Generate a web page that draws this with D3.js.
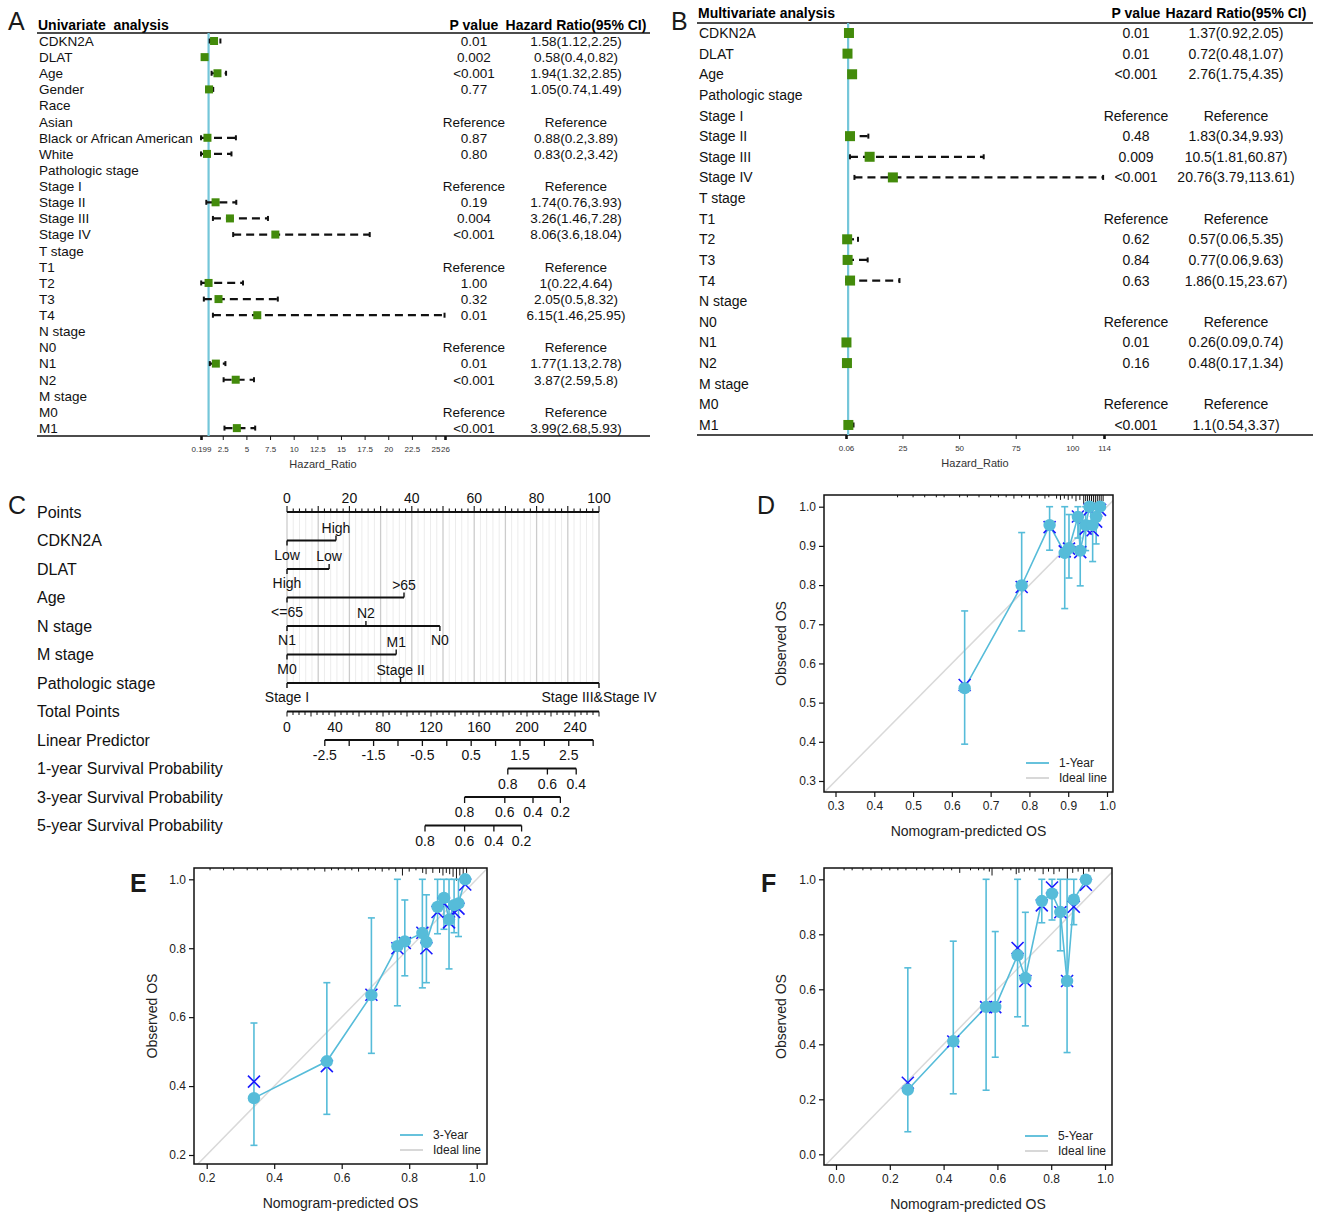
<!DOCTYPE html>
<html>
<head>
<meta charset="utf-8">
<script src="https://cdn.jsdelivr.net/npm/d3@7"></script>
<style>
  body { margin: 0; background: #fff; }
</style>
</head>
<body>
<div id="fig"></div>
<script>
// ---------------- data: univariate Cox (panel A) ----------------
const uniLabels = ["CDKN2A","DLAT","Age","Gender","Race","Asian","Black or African American","White",
  "Pathologic stage","Stage I","Stage II","Stage III","Stage IV","T stage","T1","T2","T3","T4",
  "N stage","N0","N1","N2","M stage","M0","M1"];
const uniHR   = [1.58,0.58,1.94,1.05,null,null,0.88,0.83,null,null,1.74,3.26,8.06,null,null,1,2.05,6.15,null,null,1.77,3.87,null,null,3.99];
const uniLow  = [1.12,0.4,1.32,0.74,null,null,0.2,0.2,null,null,0.76,1.46,3.6,null,null,0.22,0.5,1.46,null,null,1.13,2.59,null,null,2.68];
const uniHigh = [2.25,0.82,2.85,1.49,null,null,3.89,3.42,null,null,3.93,7.28,18.04,null,null,4.64,8.32,25.95,null,null,2.78,5.8,null,null,5.93];
const uniP    = ["0.01","0.002","<0.001","0.77","","Reference","0.87","0.80","","Reference","0.19","0.004","<0.001",
  "","Reference","1.00","0.32","0.01","","Reference","0.01","<0.001","","Reference","<0.001"];
const uniTicks = [0.199,2.5,5,7.5,10,12.5,15,17.5,20,22.5,25,26];

// ---------------- data: multivariate Cox (panel B) ----------------
const multiLabels = ["CDKN2A","DLAT","Age","Pathologic stage","Stage I","Stage II","Stage III","Stage IV",
  "T stage","T1","T2","T3","T4","N stage","N0","N1","N2","M stage","M0","M1"];
const multiHR   = [1.37,0.72,2.76,null,null,1.83,10.5,20.76,null,null,0.57,0.77,1.86,null,null,0.26,0.48,null,null,1.1];
const multiLow  = [0.92,0.48,1.75,null,null,0.34,1.81,3.79,null,null,0.06,0.06,0.15,null,null,0.09,0.17,null,null,0.54];
const multiHigh = [2.05,1.07,4.35,null,null,9.93,60.87,113.61,null,null,5.35,9.63,23.67,null,null,0.74,1.34,null,null,3.37];
const multiP    = ["0.01","0.01","<0.001","","Reference","0.48","0.009","<0.001","","Reference","0.62","0.84","0.63",
  "","Reference","0.01","0.16","","Reference","<0.001"];
const multiTicks = [0.06,25,50,75,100,114];

// ---------------- data: nomogram (panel C) ----------------
const nomoVars   = ["CDKN2A","DLAT","Age","N stage","M stage","Pathologic stage"];
const nomoLevels = [["Low","High"],["High","Low"],["<=65",">65"],["N1","N2","N0"],["M0","M1"],["Stage I","Stage II","Stage III&Stage IV"]];
const nomoPoints = [[0,15.7],[0,13.5],[0,37.5],[0,25.3,49],[0,35],[0,36.4,100]];
const pointsLabels = [0,20,40,60,80,100];
const totalLabels  = [0,40,80,120,160,200,240];
const lpLabels     = [-2.5,-1.5,-0.5,0.5,1.5,2.5];
const lpAnchorLP    = [-2.5,2.5];     // linear predictor ...
const lpAnchorTotal = [31.5,234.8];   // ... and its total points
const surv1Labels = [0.8,0.6,0.4],     surv1Total = [184,217,241];
const surv3Labels = [0.8,0.6,0.4,0.2], surv3Total = [148,181.5,205,227.8];
const surv5Labels = [0.8,0.6,0.4,0.2], surv5Total = [115,148,172.4,195.5];

// ---------------- data: calibration curves (panels D, E, F) ----------------
const cal1Pred = [0.633,0.780,0.852,0.891,0.902,0.925,0.931,0.945,0.955,0.963,0.972,0.982];
const cal1Obs  = [0.537,0.799,0.953,0.882,0.894,0.974,0.888,0.953,1.000,0.953,0.974,1.000];
const cal1Low  = [0.394,0.683,0.889,0.740,0.818,0.920,0.798,0.888,1.000,0.860,0.905,1.000];
const cal1High = [0.734,0.934,1.000,1.000,0.980,1.000,0.975,1.000,1.000,1.000,1.000,1.000];
const cal1Corr = [0.545,0.795,0.948,0.886,0.893,0.975,0.884,0.944,0.993,0.940,0.962,0.992];
const rug1X = [0.46,0.50,0.53,0.56,0.58,0.62,0.64,0.67,0.70,0.72,0.74,0.76,0.78,0.80,0.82,0.84,0.85,0.87,0.88,
  0.89,0.90,0.91,0.92,0.93,0.94,0.945,0.95,0.955,0.96,0.965,0.97,0.975,0.98,0.985,0.99];
const rug1N = [1,1,1,1,1,1,1,1,1,1,1,2,1,2,1,2,1,2,3,2,3,2,4,3,6,4,7,5,8,6,8,6,7,5,4];

const cal3Pred = [0.340,0.556,0.688,0.765,0.787,0.839,0.851,0.884,0.903,0.918,0.933,0.946,0.966];
const cal3Obs  = [0.365,0.472,0.664,0.806,0.820,0.844,0.818,0.920,0.946,0.883,0.925,0.930,1.000];
const cal3Low  = [0.228,0.318,0.495,0.633,0.720,0.685,0.700,0.842,0.855,0.740,0.845,0.834,1.000];
const cal3High = [0.583,0.700,0.888,1.000,0.940,1.000,0.955,1.000,1.000,1.000,1.000,1.000,1.000];
const cal3Corr = [0.413,0.458,0.665,0.800,0.815,0.845,0.800,0.905,0.930,0.875,0.905,0.915,0.985];
const rug3X = [0.21,0.25,0.28,0.32,0.35,0.38,0.42,0.45,0.47,0.50,0.52,0.55,0.57,0.59,0.61,0.63,0.65,0.68,0.70,
  0.72,0.74,0.76,0.78,0.80,0.82,0.84,0.85,0.87,0.89,0.90,0.91,0.92,0.93,0.94,0.95,0.96,0.97];
const rug3N = [1,1,1,1,1,1,1,1,1,1,1,2,1,1,1,1,2,1,1,2,1,2,5,2,1,3,4,3,3,5,3,4,6,9,5,6,3];

const cal5Pred = [0.267,0.436,0.558,0.592,0.675,0.704,0.765,0.803,0.834,0.859,0.884,0.929];
const cal5Obs  = [0.235,0.411,0.536,0.536,0.724,0.641,0.921,0.948,0.881,0.630,0.926,0.999];
const cal5Low  = [0.082,0.220,0.233,0.353,0.500,0.467,0.842,0.852,0.740,0.370,0.835,1.000];
const cal5High = [0.678,0.775,1.000,0.810,1.000,0.880,1.000,1.000,1.000,1.000,1.000,1.000];
const cal5Corr = [0.260,0.410,0.535,0.535,0.750,0.630,0.905,0.970,0.880,0.630,0.900,0.980];
const rug5X = [0.03,0.06,0.10,0.13,0.17,0.20,0.23,0.26,0.30,0.33,0.36,0.40,0.43,0.46,0.50,0.53,0.55,0.57,0.58,
  0.62,0.65,0.67,0.68,0.70,0.72,0.74,0.77,0.79,0.81,0.83,0.86,0.88,0.90,0.92,0.94,0.96];
const rug5N = [1,1,1,1,1,1,1,1,1,1,1,1,1,3,1,1,1,2,5,1,1,4,3,2,1,2,4,2,4,2,8,3,2,6,2,2];

// ---------------------------------------------------------------
const FONT = '"Liberation Sans", Arial, Helvetica, sans-serif';
const blueLine = "#56bcd9";

const svg = d3.select("#fig").append("svg")
  .attr("width", 1321)
  .attr("height", 1213)
  .style("font-family", FONT);

// panel letters
[["A",8,30,"normal"],["B",671,30,"normal"],["C",8,514,"normal"],["D",757,514,"normal"],
 ["E",130,892,"bold"],["F",761,892,"bold"]].forEach(function(d) {
  svg.append("text").attr("x", d[1]).attr("y", d[2])
     .attr("font-size", 25).attr("font-weight", d[3]).attr("fill", "#1a1a1a")
     .text(d[0]);
});

// ---------------- forest plots ----------------
function drawForest(o) {
  const g = svg.append("g");
  const x = d3.scaleLinear().domain(d3.extent(o.ticks)).range(o.axisRange);
  const rowY = i => o.rowTop + i * o.rowStep;

  g.append("text").attr("x", o.left + 1).attr("y", o.headY)
   .attr("font-size", 14).attr("font-weight", "bold").style("white-space", "pre")
   .text(o.title);
  g.append("text").attr("x", o.pCol).attr("y", o.headY).attr("text-anchor", "middle")
   .attr("font-size", 14).attr("font-weight", "bold").text("P value");
  g.append("text").attr("x", o.ciCol).attr("y", o.headY).attr("text-anchor", "middle")
   .attr("font-size", 14).attr("font-weight", "bold").text("Hazard Ratio(95% CI)");

  g.append("line").attr("x1", o.left).attr("x2", o.right).attr("y1", o.headLine).attr("y2", o.headLine)
   .attr("stroke", "#111").attr("stroke-width", 1.3);
  g.append("line").attr("x1", o.left).attr("x2", o.right).attr("y1", o.axisY).attr("y2", o.axisY)
   .attr("stroke", "#111").attr("stroke-width", 1.3);

  // reference line at HR = 1
  g.append("line").attr("x1", x(1)).attr("x2", x(1)).attr("y1", o.headLine).attr("y2", o.axisY)
   .attr("stroke", "#74c6d9").attr("stroke-width", 2.2);

  o.labels.forEach(function(lab, i) {
    const yy = rowY(i);
    g.append("text").attr("x", o.left + 2).attr("y", yy).attr("dy", "0.36em")
     .attr("font-size", o.fs).attr("fill", "#111").text(lab);

    if (o.p[i]) {
      const ci = o.p[i] === "Reference" ? "Reference" : o.hr[i] + "(" + o.lo[i] + "," + o.hi[i] + ")";
      g.append("text").attr("x", o.pCol).attr("y", yy).attr("dy", "0.36em").attr("text-anchor", "middle")
       .attr("font-size", o.fs).attr("fill", "#111").text(o.p[i]);
      g.append("text").attr("x", o.ciCol).attr("y", yy).attr("dy", "0.36em").attr("text-anchor", "middle")
       .attr("font-size", o.fs).attr("fill", "#111").text(ci);
    }

    if (o.hr[i] != null) {
      g.append("line").attr("x1", x(o.lo[i])).attr("x2", x(o.hi[i])).attr("y1", yy).attr("y2", yy)
       .attr("stroke", "#111").attr("stroke-width", 2.2).attr("stroke-dasharray", "8,5");
      [o.lo[i], o.hi[i]].forEach(function(v) {
        g.append("line").attr("x1", x(v)).attr("x2", x(v)).attr("y1", yy - 2.5).attr("y2", yy + 2.5)
         .attr("stroke", "#111").attr("stroke-width", 2);
      });
      g.append("rect").attr("x", x(o.hr[i]) - o.sq / 2).attr("y", yy - o.sq / 2)
       .attr("width", o.sq).attr("height", o.sq).attr("fill", "#438b0b");
    }
  });

  const ax = g.append("g").attr("transform", "translate(0," + o.axisY + ")")
    .call(d3.axisBottom(x).tickValues(o.ticks).tickSize(4).tickPadding(6).tickFormat(d => String(d)));
  ax.select(".domain").remove();
  ax.selectAll("text").attr("font-size", 8).attr("font-family", FONT).attr("fill", "#333");
  ax.selectAll(".tick line").attr("stroke", "#111")
    .attr("stroke-width", (d, i) => (i === 0 || i === o.ticks.length - 1) ? 2.6 : 1);

  g.append("text").attr("x", (o.axisRange[0] + o.axisRange[1]) / 2).attr("y", o.axisY + 32)
   .attr("text-anchor", "middle").attr("font-size", 11).attr("fill", "#333").text("Hazard_Ratio");
}

drawForest({
  title: "Univariate  analysis", labels: uniLabels, hr: uniHR, lo: uniLow, hi: uniHigh, p: uniP,
  ticks: uniTicks, axisRange: [201, 445], left: 37, right: 650, headY: 30, headLine: 33,
  rowTop: 41, rowStep: 16.13, axisY: 436, pCol: 474, ciCol: 576, fs: 13.5, sq: 8
});
drawForest({
  title: "Multivariate analysis", labels: multiLabels, hr: multiHR, lo: multiLow, hi: multiHigh, p: multiP,
  ticks: multiTicks, axisRange: [846, 1104], left: 697, right: 1313, headY: 18, headLine: 23,
  rowTop: 33, rowStep: 20.63, axisY: 435, pCol: 1136, ciCol: 1236, fs: 14, sq: 10
});

// ---------------- nomogram ----------------
(function() {
  const g = svg.append("g");
  const nx = d3.scaleLinear().domain([0, 100]).range([287, 599]);
  const tx = d3.scaleLinear().domain([0, 260]).range([287, 599]);
  const lpx = d3.scaleLinear().domain(lpAnchorLP).range(lpAnchorTotal.map(tx));
  const rowY = i => 512 + i * 28.5;

  const rowNames = ["Points"].concat(nomoVars, ["Total Points", "Linear Predictor",
    "1-year Survival Probability", "3-year Survival Probability", "5-year Survival Probability"]);
  rowNames.forEach(function(r, i) {
    g.append("text").attr("x", 37).attr("y", rowY(i)).attr("dy", "0.36em")
     .attr("font-size", 16).attr("fill", "#111").text(r);
  });

  // vertical grid
  d3.range(0, 100.01, 2).forEach(function(v) {
    g.append("line").attr("x1", nx(v)).attr("x2", nx(v)).attr("y1", rowY(0)).attr("y2", rowY(6))
     .attr("stroke", v % 10 === 0 ? "#cccccc" : "#ececec").attr("stroke-width", v % 10 === 0 ? 1.3 : 1);
  });

  // points axis (ticks up, labels above)
  g.append("line").attr("x1", nx(0)).attr("x2", nx(100)).attr("y1", rowY(0)).attr("y2", rowY(0))
   .attr("stroke", "#111").attr("stroke-width", 1.8);
  d3.range(0, 100.01, 2).forEach(function(v) {
    g.append("line").attr("x1", nx(v)).attr("x2", nx(v)).attr("y1", rowY(0))
     .attr("y2", rowY(0) - (v % 10 === 0 ? 6 : 3.5)).attr("stroke", "#111").attr("stroke-width", 1.1);
  });
  pointsLabels.forEach(function(v) {
    g.append("text").attr("x", nx(v)).attr("y", rowY(0) - 9).attr("text-anchor", "middle")
     .attr("font-size", 14).attr("fill", "#111").text(v);
  });

  // predictor scales
  nomoVars.forEach(function(name, k) {
    const yy = rowY(k + 1);
    const pts = nomoPoints[k];
    g.append("line").attr("x1", nx(d3.min(pts))).attr("x2", nx(d3.max(pts))).attr("y1", yy).attr("y2", yy)
     .attr("stroke", "#111").attr("stroke-width", 1.8);
    const order = d3.range(pts.length).sort((a, b) => pts[a] - pts[b]);
    order.forEach(function(li, rank) {
      const up = rank % 2 === 1;
      g.append("line").attr("x1", nx(pts[li])).attr("x2", nx(pts[li])).attr("y1", yy)
       .attr("y2", up ? yy - 5 : yy + 5).attr("stroke", "#111").attr("stroke-width", 1.4);
      g.append("text").attr("x", nx(pts[li])).attr("y", up ? yy - 8 : yy + 19)
       .attr("text-anchor", "middle").attr("font-size", 14).attr("fill", "#111").text(nomoLevels[k][li]);
    });
  });

  // total points
  const ty = rowY(7);
  g.append("line").attr("x1", tx(0)).attr("x2", tx(260)).attr("y1", ty).attr("y2", ty)
   .attr("stroke", "#111").attr("stroke-width", 1.8);
  d3.range(0, 260.01, 5).forEach(function(v) {
    g.append("line").attr("x1", tx(v)).attr("x2", tx(v)).attr("y1", ty).attr("y2", ty + (v % 20 === 0 ? 5 : 3.5))
     .attr("stroke", "#111").attr("stroke-width", 1);
  });
  totalLabels.forEach(function(v) {
    g.append("text").attr("x", tx(v)).attr("y", ty + 20).attr("text-anchor", "middle")
     .attr("font-size", 14).attr("fill", "#111").text(v);
  });

  // linear predictor
  const ly = rowY(8);
  const lpTicks = d3.range(-2.5, 3.01, 0.5);
  g.append("line").attr("x1", lpx(-2.5)).attr("x2", lpx(3)).attr("y1", ly).attr("y2", ly)
   .attr("stroke", "#111").attr("stroke-width", 1.8);
  lpTicks.forEach(function(v) {
    g.append("line").attr("x1", lpx(v)).attr("x2", lpx(v)).attr("y1", ly).attr("y2", ly + 6)
     .attr("stroke", "#111").attr("stroke-width", 1.3);
  });
  lpLabels.forEach(function(v) {
    g.append("text").attr("x", lpx(v)).attr("y", ly + 20).attr("text-anchor", "middle")
     .attr("font-size", 14).attr("fill", "#111").text(v);
  });

  // survival probability scales
  [[surv1Labels, surv1Total], [surv3Labels, surv3Total], [surv5Labels, surv5Total]].forEach(function(s, k) {
    const yy = rowY(9 + k);
    g.append("line").attr("x1", tx(d3.min(s[1]))).attr("x2", tx(d3.max(s[1]))).attr("y1", yy).attr("y2", yy)
     .attr("stroke", "#111").attr("stroke-width", 1.8);
    s[1].forEach(function(t, j) {
      g.append("line").attr("x1", tx(t)).attr("x2", tx(t)).attr("y1", yy).attr("y2", yy + 6)
       .attr("stroke", "#111").attr("stroke-width", 1.3);
      g.append("text").attr("x", tx(t)).attr("y", yy + 20).attr("text-anchor", "middle")
       .attr("font-size", 14).attr("fill", "#111").text(s[0][j]);
    });
  });
})();

// ---------------- calibration plots ----------------
function drawCal(o) {
  const g = svg.append("g");
  const x = d3.scaleLinear().domain(d3.extent(o.ticks)).range(o.xr);
  const y = d3.scaleLinear().domain(d3.extent(o.ticks)).range(o.yr);
  const b = o.box;
  const cid = "clip" + o.id;
  svg.append("clipPath").attr("id", cid).append("rect")
     .attr("x", b.l).attr("y", b.t).attr("width", b.r - b.l).attr("height", b.b - b.t);

  // ideal line
  const v0 = x.invert(b.l) - 0.2, v1 = x.invert(b.r) + 0.2;
  g.append("line").attr("clip-path", "url(#" + cid + ")")
   .attr("x1", x(v0)).attr("y1", y(v0)).attr("x2", x(v1)).attr("y2", y(v1))
   .attr("stroke", "#d9d9d9").attr("stroke-width", 1.5);

  // rug of predictions along the top
  o.rugX.forEach(function(v, i) {
    g.append("line").attr("x1", x(v)).attr("x2", x(v)).attr("y1", b.t).attr("y2", b.t + 1 + o.rugN[i] * 1.3)
     .attr("stroke", "#111").attr("stroke-width", 1);
  });

  // error bars
  o.pred.forEach(function(p, i) {
    if (o.high[i] - o.low[i] < 0.001) return;
    g.append("line").attr("x1", x(p)).attr("x2", x(p)).attr("y1", y(o.low[i])).attr("y2", y(o.high[i]))
     .attr("stroke", blueLine).attr("stroke-width", 1.6);
    [o.low[i], o.high[i]].forEach(function(v) {
      g.append("line").attr("x1", x(p) - 3.5).attr("x2", x(p) + 3.5).attr("y1", y(v)).attr("y2", y(v))
       .attr("stroke", blueLine).attr("stroke-width", 1.6);
    });
  });

  // observed curve
  g.append("path").datum(d3.zip(o.pred, o.obs))
   .attr("d", d3.line().x(d => x(d[0])).y(d => y(d[1])))
   .attr("fill", "none").attr("stroke", blueLine).attr("stroke-width", 1.6);

  // bias-corrected marks
  o.pred.forEach(function(p, i) {
    const cx = x(p), cy = y(o.corr[i]), s = 6;
    g.append("path").attr("d", `M${cx - s},${cy - s}L${cx + s},${cy + s}M${cx - s},${cy + s}L${cx + s},${cy - s}`)
     .attr("stroke", "#1a1aff").attr("stroke-width", 1.6).attr("fill", "none");
  });

  g.selectAll("circle.obs").data(d3.zip(o.pred, o.obs)).enter().append("circle")
   .attr("cx", d => x(d[0])).attr("cy", d => y(d[1])).attr("r", 6.2).attr("fill", blueLine);

  // box
  g.append("rect").attr("x", b.l).attr("y", b.t).attr("width", b.r - b.l).attr("height", b.b - b.t)
   .attr("fill", "none").attr("stroke", "#111").attr("stroke-width", 1.5);

  const fmt = d3.format(".1f");
  const ax = g.append("g").attr("transform", "translate(0," + b.b + ")")
    .call(d3.axisBottom(x).tickValues(o.ticks).tickSize(5).tickPadding(4).tickFormat(fmt));
  const ay = g.append("g").attr("transform", "translate(" + b.l + ",0)")
    .call(d3.axisLeft(y).tickValues(o.ticks).tickSize(5).tickPadding(3).tickFormat(fmt));
  [ax, ay].forEach(function(a) {
    a.select(".domain").remove();
    a.selectAll("text").attr("font-size", 12).attr("font-family", FONT).attr("fill", "#222");
    a.selectAll(".tick line").attr("stroke", "#111").attr("stroke-width", 1.2);
  });

  g.append("text").attr("x", (b.l + b.r) / 2).attr("y", b.b + 44).attr("text-anchor", "middle")
   .attr("font-size", 14).attr("fill", "#222").text("Nomogram-predicted OS");
  g.append("text").attr("transform", "translate(" + o.yTitleX + "," + (b.t + b.b) / 2 + ") rotate(-90)")
   .attr("text-anchor", "middle").attr("dy", "0.36em")
   .attr("font-size", 14).attr("fill", "#222").text("Observed OS");

  // legend
  [[o.legend, blueLine], ["Ideal line", "#d4d4d4"]].forEach(function(d, i) {
    const yy = b.b - 29 + i * 15;
    g.append("line").attr("x1", b.r - 87).attr("x2", b.r - 64).attr("y1", yy).attr("y2", yy)
     .attr("stroke", d[1]).attr("stroke-width", 1.8);
    g.append("text").attr("x", b.r - 54).attr("y", yy).attr("dy", "0.36em")
     .attr("font-size", 12).attr("fill", "#222").text(d[0]);
  });
}

drawCal({ id: "D", ticks: [0.3,0.4,0.5,0.6,0.7,0.8,0.9,1.0], xr: [835.5, 1107], yr: [781, 506.7],
  box: { l: 824, r: 1113, t: 495, b: 792 }, yTitleX: 781, legend: "1-Year",
  pred: cal1Pred, obs: cal1Obs, low: cal1Low, high: cal1High, corr: cal1Corr, rugX: rug1X, rugN: rug1N });
drawCal({ id: "E", ticks: [0.2,0.4,0.6,0.8,1.0], xr: [206.7, 476.7], yr: [1155, 879.3],
  box: { l: 194, r: 487, t: 868, b: 1164 }, yTitleX: 152, legend: "3-Year",
  pred: cal3Pred, obs: cal3Obs, low: cal3Low, high: cal3High, corr: cal3Corr, rugX: rug3X, rugN: rug3N });
drawCal({ id: "F", ticks: [0.0,0.2,0.4,0.6,0.8,1.0], xr: [836, 1105], yr: [1154.3, 879.3],
  box: { l: 824, r: 1112, t: 868, b: 1165 }, yTitleX: 781, legend: "5-Year",
  pred: cal5Pred, obs: cal5Obs, low: cal5Low, high: cal5High, corr: cal5Corr, rugX: rug5X, rugN: rug5N });
</script>
</body>
</html>
